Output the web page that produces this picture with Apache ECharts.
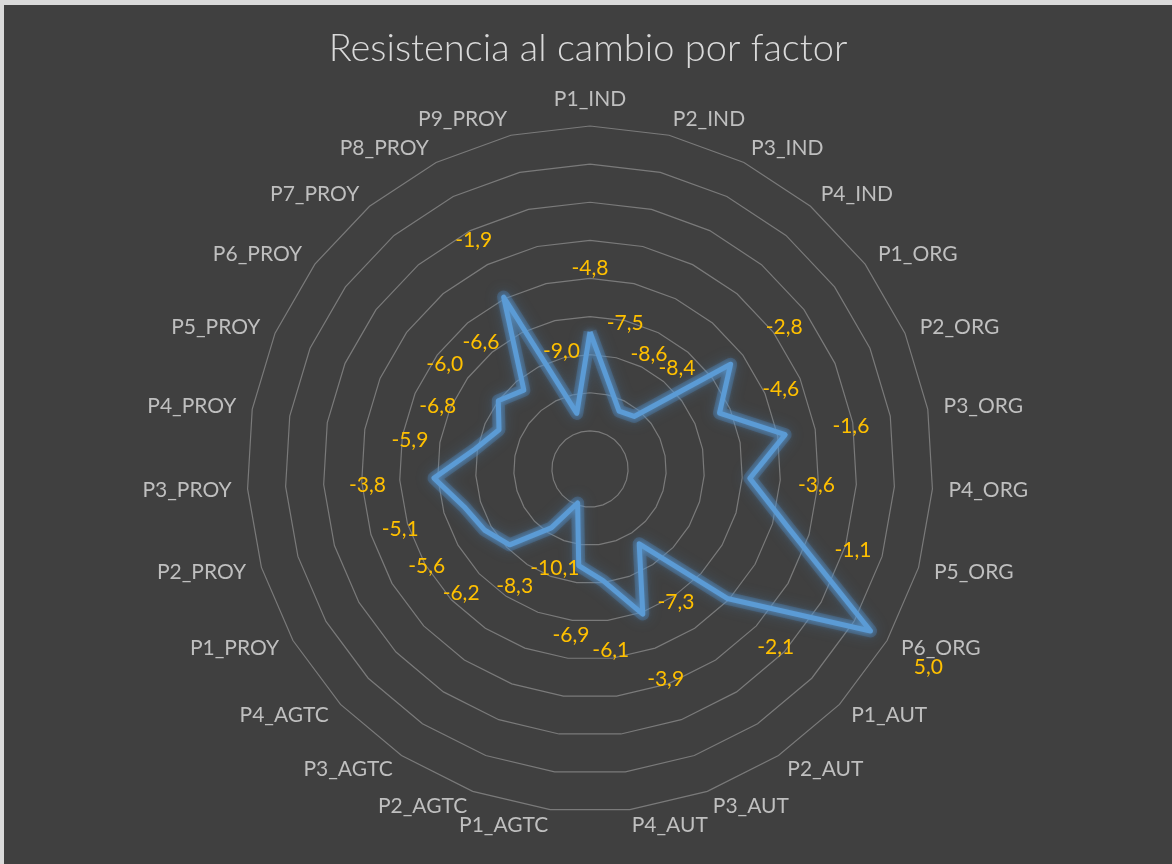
<!DOCTYPE html>
<html>
<head>
<meta charset="utf-8">
<script src="https://cdn.jsdelivr.net/npm/echarts@6/dist/echarts.min.js"></script>
<style>
  html, body { margin: 0; padding: 0; background: #dadada; }
  #chart { position: absolute; left: 4px; top: 5px; width: 1168px; height: 859px; background: #404040; }
</style>
</head>
<body>
<div id="chart"></div>
<script>
// Factor names, clockwise from the top
const factors = [
  'P1_IND', 'P2_IND', 'P3_IND', 'P4_IND',
  'P1_ORG', 'P2_ORG', 'P3_ORG', 'P4_ORG', 'P5_ORG', 'P6_ORG',
  'P1_AUT', 'P2_AUT', 'P3_AUT', 'P4_AUT',
  'P1_AGTC', 'P2_AGTC', 'P3_AGTC', 'P4_AGTC',
  'P1_PROY', 'P2_PROY', 'P3_PROY', 'P4_PROY', 'P5_PROY',
  'P6_PROY', 'P7_PROY', 'P8_PROY', 'P9_PROY'
];

// Resistance score per factor
const resistance = [
  -4.8, -7.5, -8.6, -8.4,
  -2.8, -4.6, -1.6, -3.6, -1.1, 5.0,
  -2.1, -7.3, -3.9, -6.1,
  -6.9, -10.1, -8.3, -6.2,
  -5.6, -5.1, -3.8, -5.9, -6.8,
  -6.0, -6.6, -1.9, -9.0
];

// Radial scale
const scaleMin = -12;
const scaleMax = 6;
const scaleStep = 2;

// Value labels sit a little further out along each spoke than their point
const labelLift = 3.5;

// ECharts lays radar indicators out counter-clockwise; keep the first one
// on top and reverse the rest so the factors run clockwise.
const order = [0].concat(factors.map((_, i) => i).slice(1).reverse());
const pick = arr => order.map(i => arr[i]);

const fmt = v => v.toFixed(1).replace('.', ',');

const chart = echarts.init(document.getElementById('chart'));
chart.setOption({
  animation: false,
  backgroundColor: '#404040',
  title: {
    text: 'Resistencia al cambio por factor',
    left: 'center',
    top: 20,
    textStyle: { color: '#d9d9d9', fontSize: 38, fontWeight: 300, fontFamily: 'Lato' }
  },
  radar: {
    center: [586, 464],
    radius: 343,
    startAngle: 90,
    shape: 'polygon',
    splitNumber: (scaleMax - scaleMin) / scaleStep,
    indicator: pick(factors).map(name => ({ name: name, min: scaleMin, max: scaleMax })),
    axisName: { color: '#bfbfbf', fontSize: 21, fontFamily: 'Lato' },
    nameGap: 16,
    axisLine: { show: false },
    axisTick: { show: false },
    axisLabel: { show: false },
    splitArea: { show: false },
    splitLine: { lineStyle: { color: '#7a7a7a', width: 1.2 } }
  },
  series: [
    {
      // soft glow under the line
      type: 'radar',
      symbol: 'none',
      silent: true,
      lineStyle: {
        color: 'rgba(80,140,200,0.3)',
        width: 13,
        join: 'round',
        shadowColor: 'rgba(80,140,200,0.75)',
        shadowBlur: 14
      },
      data: [{ value: pick(resistance), name: 'Brillo' }]
    },
    {
      type: 'radar',
      symbol: 'none',
      lineStyle: {
        color: '#5b9bd5',
        width: 5,
        shadowColor: 'rgba(91,155,213,0.9)',
        shadowBlur: 6
      },
      data: [{ value: pick(resistance), name: 'Resistencia' }]
    },
    {
      type: 'radar',
      symbol: 'circle',
      symbolSize: 1,
      silent: true,
      itemStyle: { color: 'rgba(0,0,0,0)' },
      lineStyle: { width: 0, opacity: 0 },
      label: {
        show: true,
        position: 'inside',
        offset: [0, 3],
        color: '#ffc000',
        fontSize: 21,
        fontFamily: 'Lato',
        formatter: p => fmt((Array.isArray(p.value) ? NaN : p.value) - labelLift)
      },
      data: [{ value: pick(resistance).map(v => v + labelLift), name: 'Etiquetas' }]
    }
  ]
});
</script>
</body>
</html>
